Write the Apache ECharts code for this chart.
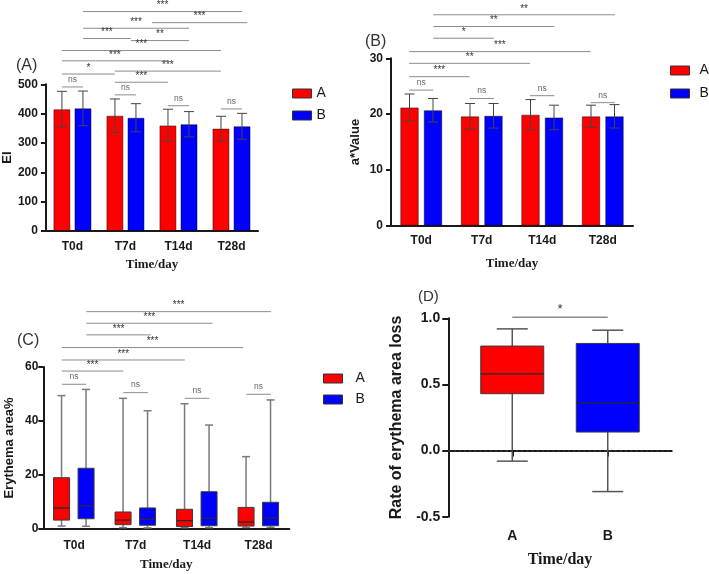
<!DOCTYPE html>
<html>
<head>
<meta charset="utf-8">
<script src="https://cdn.jsdelivr.net/npm/echarts@6/dist/echarts.min.js"></script>
<style>
  html, body { margin: 0; padding: 0; background: #fff; }
  #chart { width: 709px; height: 574px; }
</style>
</head>
<body>
<div id="chart"></div>
<script>
// categories
const days = ['T0d', 'T7d', 'T14d', 'T28d']
const groups = ['A', 'B']

// (A) EI, mean and sd per day
const eiMeanA = [415, 393, 360, 349]
const eiSdA = [61, 57, 55, 42]
const eiMeanB = [418, 386, 364, 357]
const eiSdB = [59, 48, 43, 44]

// (B) a* value, mean and sd per day
const aMeanA = [21.2, 19.6, 19.9, 19.6]
const aSdA = [2.4, 2.3, 2.7, 2.0]
const aMeanB = [20.7, 19.7, 19.4, 19.6]
const aSdB = [2.1, 2.2, 2.2, 2.1]

// (C) erythema area %, [min, q1, median, q3, max] per day
const areaBoxA = [
  [1.1, 3.3, 7.8, 19.0, 49.4],
  [0.5, 1.6, 3.3, 6.3, 48.4],
  [0.5, 0.9, 3.1, 7.3, 46.4],
  [0.6, 1.1, 2.6, 8.0, 26.8]
]
const areaBoxB = [
  [1.0, 3.8, 8.6, 22.5, 51.7],
  [0.4, 1.4, 3.6, 7.8, 43.8],
  [0.5, 1.2, 4.0, 13.8, 38.5],
  [0.6, 1.2, 4.1, 9.9, 47.8]
]

// (D) rate of erythema area loss, [min, q1, median, q3, max]
const lossBoxA = [-0.08, 0.43, 0.58, 0.79, 0.92]
const lossBoxB = [-0.31, 0.14, 0.36, 0.81, 0.91]

// significance brackets: [from, to, level, mark], from/to in category units
const sigA = [
  [0.2, 3.2, 748, '***'],
  [1.5, 3.3, 710, '***'],
  [0.2, 2.2, 691, '***'],
  [0.2, 1.1, 656, '***'],
  [1.1, 2.2, 649, '**'],
  [-0.2, 2.8, 615, '***'],
  [-0.2, 1.8, 580, '***'],
  [0.8, 2.8, 545, '***'],
  [-0.2, 0.8, 535, '*'],
  [0.8, 1.8, 507, '***'],
  [-0.2, 0.2, 491, 'ns'],
  [0.8, 1.2, 464, 'ns'],
  [1.8, 2.2, 427, 'ns'],
  [2.8, 3.2, 416, 'ns']
]
const sigB = [
  [0.2, 3.2, 37.8, '**'],
  [0.2, 2.2, 35.7, '**'],
  [0.2, 1.2, 33.6, '*'],
  [-0.2, 2.8, 31.2, '***'],
  [-0.2, 1.8, 29.1, '**'],
  [-0.2, 0.8, 26.7, '***'],
  [-0.2, 0.2, 24.3, 'ns'],
  [0.8, 1.2, 22.8, 'ns'],
  [1.8, 2.2, 23.3, 'ns'],
  [2.8, 3.2, 22.05, 'ns']
]
const sigC = [
  [0.2, 3.2, 80.5, '***'],
  [0.2, 2.25, 76.2, '***'],
  [0.2, 1.25, 71.9, '***'],
  [-0.2, 2.75, 67.2, '***'],
  [-0.2, 1.8, 62.6, '***'],
  [-0.2, 0.8, 58.5, '***'],
  [-0.2, 0.2, 53.6, 'ns'],
  [0.8, 1.2, 50.5, 'ns'],
  [1.8, 2.2, 48.4, 'ns'],
  [2.8, 3.2, 49.9, 'ns']
]
const sigD = [
  [1, 2, 1.007, '*']
]

const red = '#ff0000'
const blue = '#0000fe'
const ink = '#1a1a1a'
const sans = 'Liberation Sans'
const serif = 'Liberation Serif'

// 误差线
function errorItem (offset) {
  return function (params, api) {
    const i = api.value(0)
    const mean = api.value(1)
    const sd = api.value(2)
    const top = api.coord([i, mean + sd])
    const bot = api.coord([i, mean - sd])
    const x = top[0] + offset
    const style = { stroke: '#444', lineWidth: 1 }
    return {
      type: 'group',
      children: [
        { type: 'line', shape: { x1: x, y1: top[1], x2: x, y2: bot[1] }, style: style },
        { type: 'line', shape: { x1: x - 5, y1: top[1], x2: x + 5, y2: top[1] }, style: style },
        { type: 'line', shape: { x1: x - 5, y1: bot[1], x2: x + 5, y2: bot[1] }, style: style }
      ]
    }
  }
}

// 箱线图
function boxItem (offset, halfW, capW, whisker) {
  return function (params, api) {
    const i = api.value(0)
    const p = [1, 2, 3, 4, 5].map(k => api.coord([i, api.value(k)]))
    const x = p[0][0] + offset
    const color = api.visual('color')
    const wStyle = { stroke: whisker, lineWidth: 1.5 }
    return {
      type: 'group',
      children: [
        { type: 'line', shape: { x1: x, y1: p[4][1], x2: x, y2: p[3][1] }, style: wStyle },
        { type: 'line', shape: { x1: x, y1: p[1][1], x2: x, y2: p[0][1] }, style: wStyle },
        { type: 'line', shape: { x1: x - capW, y1: p[4][1], x2: x + capW, y2: p[4][1] }, style: wStyle },
        { type: 'line', shape: { x1: x - capW, y1: p[0][1], x2: x + capW, y2: p[0][1] }, style: wStyle },
        {
          type: 'rect',
          shape: { x: x - halfW, y: p[3][1], width: halfW * 2, height: p[1][1] - p[3][1] },
          style: { fill: color, stroke: '#3a3a3a', lineWidth: 1 }
        },
        { type: 'line', shape: { x1: x - halfW, y1: p[2][1], x2: x + halfW, y2: p[2][1] }, style: { stroke: '#2a2a2a', lineWidth: 1.3 } }
      ]
    }
  }
}

// 显著性标记
function bracketItem (list, big) {
  return function (params, api) {
    const b = list[params.dataIndex]
    const band = api.size([1, 0])[0]
    const p0 = api.coord([0, b[2]])
    const x0 = p0[0] + b[0] * band
    const x1 = p0[0] + b[1] * band
    const y = p0[1]
    const ns = b[3] === 'ns'
    return {
      type: 'group',
      children: [
        { type: 'line', shape: { x1: x0, y1: y, x2: x1, y2: y }, style: { stroke: '#8c8c8c', lineWidth: big ? 1.5 : 1 } },
        {
          type: 'text',
          x: (x0 + x1) / 2,
          y: y - (ns ? 3 : 1),
          style: {
            text: b[3],
            align: 'center',
            verticalAlign: 'bottom',
            fill: ns ? '#666' : '#333',
            font: (ns ? '8.5px ' : (big ? '13px ' : '10px ')) + sans
          }
        }
      ]
    }
  }
}

function catAxis (grid, margin, gap) {
  return {
    gridIndex: grid,
    type: 'category',
    data: days,
    axisLine: { lineStyle: { color: ink, width: 2 } },
    axisTick: { alignWithLabel: true, length: 5, lineStyle: { color: ink, width: 2 } },
    axisLabel: { margin: margin, fontFamily: sans, fontWeight: 'bold', fontSize: 12, color: ink },
    name: 'Time/day',
    nameLocation: 'middle',
    nameGap: gap,
    nameTextStyle: { fontFamily: serif, fontWeight: 'bold', fontSize: 13, color: ink }
  }
}

function valAxis (grid, min, max, step, name, gap, margin, size) {
  return {
    gridIndex: grid,
    type: 'value',
    min: min,
    max: max,
    interval: step,
    splitLine: { show: false },
    axisLine: { show: true, lineStyle: { color: ink, width: 2 } },
    axisTick: { show: true, length: 5, lineStyle: { color: ink, width: 2 } },
    axisLabel: { margin: margin, fontFamily: sans, fontWeight: 'bold', fontSize: size || 12, color: ink },
    name: name,
    nameLocation: 'middle',
    nameRotate: 90,
    nameGap: gap,
    nameTextStyle: { fontFamily: sans, fontWeight: 'bold', fontSize: 13, color: ink }
  }
}

function legendAt (left, top, gap, textPad) {
  return {
    data: groups,
    left: left,
    top: top,
    orient: 'vertical',
    padding: 0,
    icon: 'rect',
    itemWidth: 19,
    itemHeight: 9,
    itemGap: gap,
    itemStyle: { borderColor: '#333', borderWidth: 1 },
    textStyle: { fontFamily: sans, fontSize: 14, lineHeight: 14, color: ink, padding: [0, 0, 0, textPad] },
    selectedMode: false
  }
}

const barStyle = c => ({ color: c, borderColor: 'rgba(0,0,0,0.45)', borderWidth: 1 })

const chart = echarts.init(document.getElementById('chart'))

const xD = {
  gridIndex: 3,
  type: 'value',
  min: 0.33,
  max: 2.67,
  splitLine: { show: false },
  axisLine: { lineStyle: { color: ink, width: 2 } },
  axisTick: { customValues: [1, 2], length: 6, lineStyle: { color: ink, width: 2 } },
  axisLabel: {
    customValues: [1, 2],
    formatter: v => groups[Math.round(v) - 1],
    margin: 12, fontFamily: sans, fontWeight: 'bold', fontSize: 14, color: ink
  },
  name: 'Time/day',
  nameLocation: 'middle',
  nameGap: 35,
  nameTextStyle: { fontFamily: serif, fontWeight: 'bold', fontSize: 16, color: ink }
}
const yD = valAxis(3, -0.5, 1, 0.5, 'Rate of erythema area loss', 44, 8, 14)
yD.axisLabel.formatter = v => v.toFixed(1)
yD.axisTick.length = 6
yD.nameTextStyle.fontSize = 16

chart.setOption({
  animation: false,
  backgroundColor: '#fff',
  grid: [
    { left: 45, top: 84.3, width: 213, height: 146.7 },
    { left: 391, top: 58.3, width: 242, height: 167.4 },
    { left: 43.3, top: 367, width: 246, height: 162 },
    { left: 448.3, top: 318.3, width: 223.4, height: 198.4 }
  ],
  xAxis: [catAxis(0, 10, 27), catAxis(1, 9, 31), catAxis(2, 11, 29.5), xD],
  yAxis: [
    valAxis(0, 0, 500, 100, 'EI', 20, 8),
    valAxis(1, 0, 30, 10, 'a*Value', 29.5, 8),
    valAxis(2, 0, 60, 20, 'Erythema area%', 27, 5),
    yD
  ],
  legend: [
    legendAt(292, 86.5, 8, 0),
    legendAt(670, 63.5, 9, 5),
    legendAt(323, 371.5, 7, 8)
  ],
  graphic: [
    { type: 'text', left: 16, top: 58, style: { text: '(A)', font: '16px ' + sans, fill: '#333' } },
    { type: 'text', left: 365, top: 34, style: { text: '(B)', font: '16px ' + sans, fill: '#333' } },
    { type: 'text', left: 17, top: 333, style: { text: '(C)', font: '16px ' + sans, fill: '#333' } },
    { type: 'text', left: 418, top: 289.5, style: { text: '(D)', font: '15px ' + sans, fill: '#333' } }
  ],
  series: [
    // (A)
    { name: 'A', type: 'bar', xAxisIndex: 0, yAxisIndex: 0, data: eiMeanA, barWidth: 17, barGap: '24%', itemStyle: barStyle(red) },
    { name: 'B', type: 'bar', xAxisIndex: 0, yAxisIndex: 0, data: eiMeanB, barWidth: 17, barGap: '24%', itemStyle: barStyle(blue) },
    { type: 'custom', xAxisIndex: 0, yAxisIndex: 0, z: 4, renderItem: errorItem(-10.5), encode: { x: 0, y: 1 }, data: days.map((d, i) => [i, eiMeanA[i], eiSdA[i]]) },
    { type: 'custom', xAxisIndex: 0, yAxisIndex: 0, z: 4, renderItem: errorItem(10.5), encode: { x: 0, y: 1 }, data: days.map((d, i) => [i, eiMeanB[i], eiSdB[i]]) },
    { type: 'custom', xAxisIndex: 0, yAxisIndex: 0, z: 4, renderItem: bracketItem(sigA), encode: { x: 0, y: 1 }, data: sigA.map(s => [0, s[2]]) },
    // (B)
    { name: 'A', type: 'bar', xAxisIndex: 1, yAxisIndex: 1, data: aMeanA, barWidth: 18.5, barGap: '27%', itemStyle: barStyle(red) },
    { name: 'B', type: 'bar', xAxisIndex: 1, yAxisIndex: 1, data: aMeanB, barWidth: 18.5, barGap: '27%', itemStyle: barStyle(blue) },
    { type: 'custom', xAxisIndex: 1, yAxisIndex: 1, z: 4, renderItem: errorItem(-11.75), encode: { x: 0, y: 1 }, data: days.map((d, i) => [i, aMeanA[i], aSdA[i]]) },
    { type: 'custom', xAxisIndex: 1, yAxisIndex: 1, z: 4, renderItem: errorItem(11.75), encode: { x: 0, y: 1 }, data: days.map((d, i) => [i, aMeanB[i], aSdB[i]]) },
    { type: 'custom', xAxisIndex: 1, yAxisIndex: 1, z: 4, renderItem: bracketItem(sigB), encode: { x: 0, y: 1 }, data: sigB.map(s => [0, s[2]]) },
    // (C)
    { name: 'A', type: 'custom', xAxisIndex: 2, yAxisIndex: 2, itemStyle: { color: red }, renderItem: boxItem(-12.5, 8, 4, '#7a7a7a'), encode: { x: 0, y: [1, 2, 3, 4, 5] }, data: areaBoxA.map((b, i) => [i].concat(b)) },
    { name: 'B', type: 'custom', xAxisIndex: 2, yAxisIndex: 2, itemStyle: { color: blue }, renderItem: boxItem(12, 8, 4, '#7a7a7a'), encode: { x: 0, y: [1, 2, 3, 4, 5] }, data: areaBoxB.map((b, i) => [i].concat(b)) },
    { type: 'custom', xAxisIndex: 2, yAxisIndex: 2, z: 4, renderItem: bracketItem(sigC), encode: { x: 0, y: 1 }, data: sigC.map(s => [0, s[2]]) },
    // (D)
    { name: 'A', type: 'custom', xAxisIndex: 3, yAxisIndex: 3, itemStyle: { color: red }, renderItem: boxItem(0, 31.5, 15.5, '#555'), encode: { x: 0, y: [1, 2, 3, 4, 5] }, data: [[1].concat(lossBoxA)] },
    { name: 'B', type: 'custom', xAxisIndex: 3, yAxisIndex: 3, itemStyle: { color: blue }, renderItem: boxItem(0, 31.5, 15.5, '#555'), encode: { x: 0, y: [1, 2, 3, 4, 5] }, data: [[2].concat(lossBoxB)] },
    {
      type: 'custom', xAxisIndex: 3, yAxisIndex: 3, z: 4,
      renderItem: bracketItem(sigD, true), encode: { x: 0, y: 1 },
      data: sigD.map(s => [0, s[2]]),
      // 零线
      markLine: {
        silent: true,
        symbol: 'none',
        label: { show: false },
        lineStyle: { type: [2, 3.2], color: '#333', width: 2 },
        data: [{ yAxis: 0 }]
      }
    }
  ]
})
</script>
</body>
</html>
